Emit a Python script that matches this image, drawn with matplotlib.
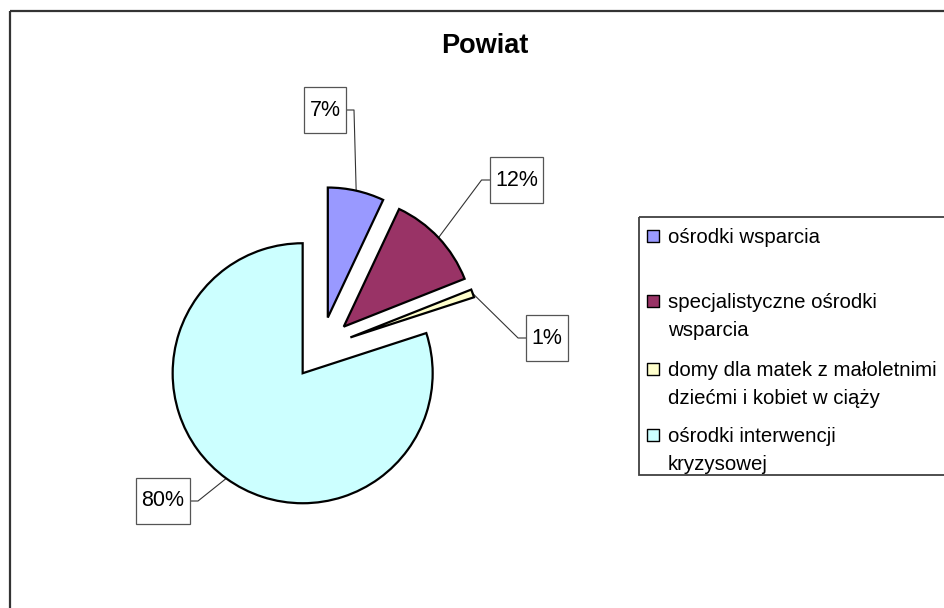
import matplotlib
matplotlib.use('Agg')
import matplotlib.pyplot as plt
import numpy as np
from matplotlib.patches import Rectangle

# ---- data ----
title = "Powiat"
categories = ["ośrodki wsparcia",
              "specjalistyczne ośrodki\nwsparcia",
              "domy dla matek z małoletnimi\ndziećmi i kobiet w ciąży",
              "ośrodki interwencji\nkryzysowej"]
values = [7, 12, 1, 80]
pct_labels = ["7%", "12%", "1%", "80%"]
colors = ["#9999FF", "#993366", "#FFFFCC", "#CCFFFF"]

plt.rcParams['font.family'] = ['Liberation Sans', 'DejaVu Sans']

W, H = 944, 608
fig = plt.figure(figsize=(W / 100, H / 100), dpi=100)
ax = fig.add_axes([0, 0, 1, 1])
ax.set_xlim(0, W)
ax.set_ylim(H, 0)
ax.axis('off')

# outer chart frame (extends beyond the visible area)
ax.add_patch(Rectangle((10, 11), 1000, 700, fill=False, edgecolor='#333333', lw=1.6))

# title
ax.text(484.5, 53, title, ha='center', va='baseline', fontsize=19.5, fontweight='bold')

# ---- pie in its own axes (1 unit = radius) ----
cx, cy_img, R = 321, 348, 130
cy = H - cy_img
pax = fig.add_axes([(cx - 2 * R) / W, (cy - 2 * R) / H, 4 * R / W, 4 * R / H])
pax.patch.set_visible(False)
wedges, _ = pax.pie(values, colors=colors, startangle=90, counterclock=False,
                    explode=[0.24] * len(values),
                    wedgeprops=dict(edgecolor='black', linewidth=1.6))
pax.set_xlim(-2, 2)
pax.set_ylim(-2, 2)
pax.set_aspect('equal')
pax.axis('off')

# ---- percentage labels in boxes with leader lines ----
box_centers = [(325, 110), (516.5, 180), (547, 338), (163, 501)]
renderer = fig.canvas.get_renderer()
inv = ax.transData.inverted()
for w, lab, (bx, by) in zip(wedges, pct_labels, box_centers):
    mid = np.deg2rad((w.theta1 + w.theta2) / 2)
    px = w.center[0] + w.r * np.cos(mid)
    py = w.center[1] + w.r * np.sin(mid)
    mx, my = inv.transform(pax.transData.transform((px, py)))
    t = ax.text(bx, by, lab, ha='center', va='center', fontsize=15.5, zorder=5)
    ext = t.get_window_extent(renderer)
    bw = ext.width + 11
    bh = 46
    ax.add_patch(Rectangle((bx - bw / 2, by - bh / 2), bw, bh, facecolor='white',
                           edgecolor='#555555', lw=0.9, zorder=4))
    if bx > mx:
        edge = bx - bw / 2
        elbow = edge - 8
    else:
        edge = bx + bw / 2
        elbow = edge + 8
    ax.plot([edge, elbow, mx], [by, by, my], color='#333333', lw=0.8, zorder=3)

# ---- legend ----
ax.add_patch(Rectangle((639, 217), 400, 258, fill=False, edgecolor='#404040', lw=1.3))
baselines = [243, 308, 376, 442]
for lab, col, base in zip(categories, colors, baselines):
    ax.scatter([653], [base - 7], marker='s', s=75, facecolor=col, edgecolor='black',
               linewidths=1.0, zorder=5)
    for i, line in enumerate(lab.split('\n')):
        ax.text(668, base + i * 27.5, line, ha='left', va='baseline', fontsize=14.7)

fig.savefig('out.png', dpi=100)
